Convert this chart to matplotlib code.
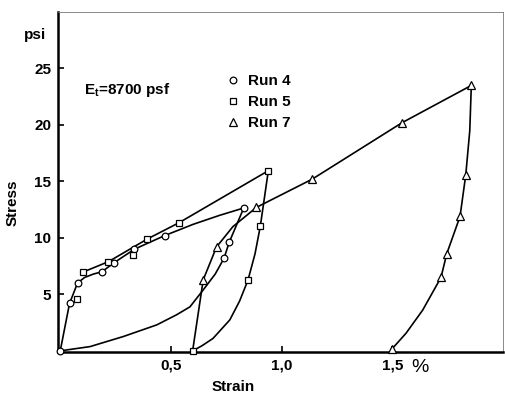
"""Stress-strain loops for runs 4, 5 and 7."""
import matplotlib
matplotlib.use("Agg")
import matplotlib.pyplot as plt

plt.rcParams['font.family'] = ['Liberation Sans', 'DejaVu Sans']

# measured points (strain in %, stress in psi)
run4_strain = [0.0, 0.042, 0.078, 0.188, 0.243, 0.335, 0.471, 0.829, 0.763, 0.740]
run4_stress = [0.0, 4.2, 6.0, 7.0, 7.8, 9.0, 10.2, 12.65, 9.6, 8.2]
run5_strain = [0.075, 0.101, 0.218, 0.330, 0.393, 0.537, 0.940, 0.904, 0.848, 0.598]
run5_stress = [4.6, 6.96, 7.9, 8.5, 9.9, 11.35, 15.95, 11.06, 6.26, 0.0]
run7_strain = [0.646, 0.706, 0.886, 1.138, 1.544, 1.857, 1.832, 1.806, 1.746, 1.720, 1.500]
run7_stress = [6.3, 9.2, 12.7, 15.2, 20.2, 23.5, 15.6, 11.9, 8.6, 6.5, 0.2]

# traced curves through the points
run4_load_x = [0.0, 0.042, 0.078, 0.11, 0.15, 0.188, 0.243, 0.335, 0.471, 0.60, 0.72, 0.829]
run4_load_y = [0.0, 4.2, 6.0, 6.5, 6.8, 7.0, 7.8, 9.0, 10.2, 11.2, 12.0, 12.65]
run4_unload_x = [0.829, 0.763, 0.740, 0.70, 0.646, 0.586, 0.526, 0.436, 0.285, 0.135, 0.0]
run4_unload_y = [12.65, 9.6, 8.2, 6.8, 5.4, 3.9, 3.2, 2.3, 1.27, 0.38, 0.0]
run5_load_x = [0.101, 0.218, 0.393, 0.537, 0.940]
run5_load_y = [6.96, 7.9, 9.9, 11.35, 15.95]
run5_unload_x = [0.940, 0.904, 0.880, 0.848, 0.81, 0.766, 0.69, 0.64, 0.598]
run5_unload_y = [15.95, 11.06, 8.6, 6.26, 4.4, 2.74, 1.1, 0.45, 0.0]
run7_load_x = [0.598, 0.646, 0.706, 0.78, 0.886, 1.138, 1.544, 1.857]
run7_load_y = [0.0, 6.3, 9.2, 11.0, 12.7, 15.2, 20.2, 23.5]
run7_unload_x = [1.857, 1.850, 1.832, 1.806, 1.746, 1.720, 1.637, 1.562, 1.500]
run7_unload_y = [23.5, 19.5, 15.6, 11.9, 8.6, 6.5, 3.6, 1.56, 0.2]

fig = plt.figure(figsize=(5.05, 3.94), dpi=100)
ax = fig.add_axes([0.1149, 0.1066, 0.8811, 0.8629])

line_kw = dict(color='black', linewidth=1.2)
for xs, ys in [(run4_load_x, run4_load_y), (run4_unload_x, run4_unload_y),
               (run5_load_x, run5_load_y), (run5_unload_x, run5_unload_y),
               (run7_load_x, run7_load_y), (run7_unload_x, run7_unload_y)]:
    ax.plot(xs, ys, **line_kw)

mk_kw = dict(linestyle='none', markerfacecolor='white', markeredgecolor='black',
             markeredgewidth=0.9, clip_on=False, zorder=3)
ax.plot(run4_strain, run4_stress, marker='o', markersize=4.8, label='Run 4', **mk_kw)
ax.plot(run5_strain, run5_stress, marker='s', markersize=4.2, label='Run 5', **mk_kw)
ax.plot(run7_strain, run7_stress, marker='^', markersize=6, label='Run 7', **mk_kw)

ax.set_xlim(-0.01, 2.0)
ax.set_ylim(-0.1, 30)
ax.set_xticks([0.5, 1.0, 1.5])
ax.set_xticklabels(['0,5', '1,0', '1,5'])
ax.set_yticks([5, 10, 15, 20, 25])
ax.tick_params(direction='in', length=4, width=1.2, labelsize=11, pad=5)
for lbl in ax.get_xticklabels() + ax.get_yticklabels():
    lbl.set_fontweight('bold')

for side in ['left', 'bottom']:
    ax.spines[side].set_linewidth(1.8)
for side in ['top', 'right']:
    ax.spines[side].set_linewidth(0.6)
    ax.spines[side].set_color('#777777')

# legend: open markers with run names
ax.legend(loc='upper left', bbox_to_anchor=(0.378, 0.817), frameon=False,
          handletextpad=0.5, labelspacing=0.45, handlelength=0.9,
          borderaxespad=0, borderpad=0,
          prop={'weight': 'bold', 'size': 11})

ax.text(0.058, 0.77, r'E$_\mathregular{t}$=8700 psf', transform=ax.transAxes,
        fontsize=11, fontweight='bold', va='center', ha='left')

fig.text(35 / 505, 1 - 35 / 394, 'psi', fontsize=11, fontweight='bold',
         ha='center', va='center')
fig.text(13 / 505, 1 - 203 / 394, 'Stress', fontsize=11, fontweight='bold',
         rotation=90, ha='center', va='center')
fig.text(233 / 505, 1 - 387 / 394, 'Strain', fontsize=11, fontweight='bold',
         ha='center', va='center')
fig.text(420 / 505, 1 - 367 / 394, '%', fontsize=14, ha='center', va='center')

fig.savefig('out.png', dpi=100)
